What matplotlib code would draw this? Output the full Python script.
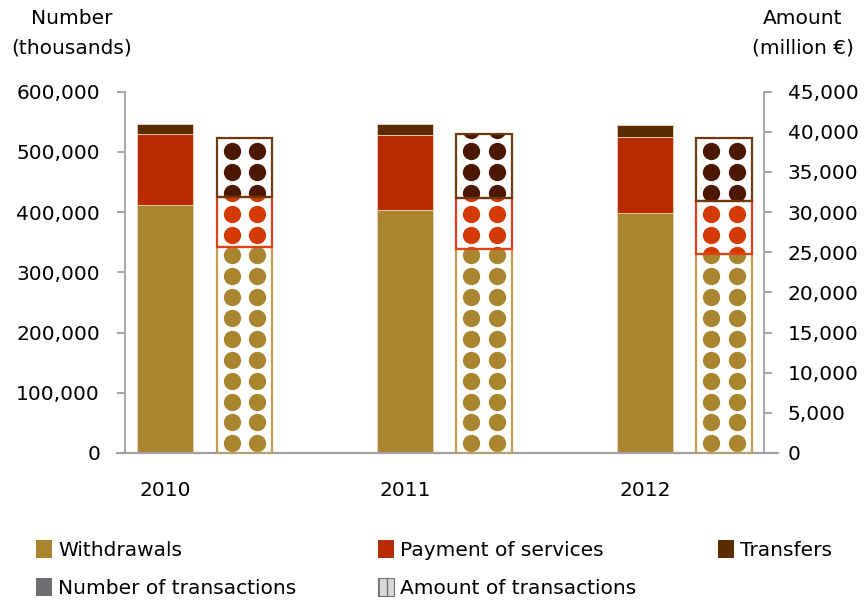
import numpy as np
import matplotlib
matplotlib.use("Agg")
from matplotlib import pyplot as plt
from matplotlib.patches import Rectangle
from matplotlib.ticker import FuncFormatter

years = ['2010', '2011', '2012']

# number of transactions (thousands)
num_withdrawals = [412000, 404000, 399000]
num_payments = [117000, 124000, 125000]
num_transfers = [17000, 19000, 21000]

# amount of transactions (million EUR)
amt_withdrawals = [25700, 25350, 24730]
amt_payments = [6200, 6450, 6650]
amt_transfers = [7300, 7950, 7900]

gold = '#aa852f'
red = '#b92b02'
brown = '#5a2c00'
dot_cols = ['#aa852f', '#d43a04', '#4b1700']
box_cols = ['#c39d4c', '#e0401a', '#6b3a10']
grey = '#a0a0a0'

plt.rcParams['font.family'] = 'DejaVu Sans'
fs = 14.5

fig = plt.figure(figsize=(8.65, 6.04), dpi=100)
ax = fig.add_axes([125/865, (604-453)/604, (764-125)/865, (453-91.7)/604])
ax2 = ax.twinx()

x = np.arange(len(years))
w = 0.233
off = 0.331

# number bars (left axis)
bot = np.zeros(3)
for vals, col in [(num_withdrawals, gold), (num_payments, red), (num_transfers, brown)]:
    ax.bar(x, vals, w, bottom=bot, color=col, edgecolor='#e6d6bc', linewidth=0.6, zorder=2)
    bot = bot + np.array(vals)

# amount bars (right axis) with dotted fill
bot = np.zeros(3)
for seg, vals in enumerate([amt_withdrawals, amt_payments, amt_transfers]):
    bars = ax2.bar(x + off, vals, w, bottom=bot, facecolor='white', edgecolor='none', zorder=2)
    for i, b in enumerate(bars):
        rows = np.arange(1200, 45000, 2600)
        xs = np.concatenate([np.full(len(rows), x[i] + off - 0.054), np.full(len(rows), x[i] + off + 0.054)])
        ys = np.concatenate([rows, rows])
        sc = ax2.scatter(xs, ys, s=155, color=dot_cols[seg], linewidths=0, zorder=3)
        sc.set_clip_path(b)
    ax2.bar(x + off, vals, w, bottom=bot, fill=False, edgecolor=box_cols[seg], linewidth=1.6, zorder=4)
    bot = bot + np.array(vals)

ax.set_xlim(-0.167, 2.496)
ax.set_ylim(0, 600000)
ax2.set_ylim(0, 45000)
ax.set_yticks(np.arange(0, 600001, 100000))
ax2.set_yticks(np.arange(0, 45001, 5000))
fmt = FuncFormatter(lambda v, p: '{:,.0f}'.format(v))
ax.yaxis.set_major_formatter(fmt)
ax2.yaxis.set_major_formatter(fmt)
ax.set_xticks(x)
ax.set_xticklabels(years)

for a in (ax, ax2):
    for s in a.spines.values():
        s.set_visible(False)
ax.spines['left'].set_visible(True)
ax.spines['left'].set_color(grey)
ax.spines['bottom'].set_visible(True)
ax.spines['bottom'].set_color(grey)
ax.spines['bottom'].set_linewidth(1.5)
ax2.spines['right'].set_visible(True)
ax2.spines['right'].set_color(grey)
for s in (ax.spines['left'], ax2.spines['right']):
    s.set_linewidth(1.3)

ax.tick_params(axis='y', length=6, width=1.3, color=grey, pad=12, labelsize=fs)
ax2.tick_params(axis='y', length=6, width=1.3, color=grey, pad=11, labelsize=fs)
ax.tick_params(axis='x', length=0, pad=20, labelsize=fs)

# extend the category axis line a bit past the value axes
ax.plot([-0.012, 1.022], [0, 0], transform=ax.transAxes, color=grey, lw=1.5, clip_on=False, zorder=1)

fig.text(72/865, 1 - 18/604, 'Number', ha='center', va='center', fontsize=fs)
fig.text(72/865, 1 - 48/604, '(thousands)', ha='center', va='center', fontsize=fs)
fig.text(803/865, 1 - 18/604, 'Amount', ha='center', va='center', fontsize=fs)
fig.text(803/865, 1 - 48/604, '(million €)', ha='center', va='center', fontsize=fs)

# legend: three columns placed by hand
h_w = Rectangle((0, 0), 1, 1, facecolor=gold)
h_n = Rectangle((0, 0), 1, 1, facecolor='#6d6d72')
h_p = Rectangle((0, 0), 1, 1, facecolor=red)
h_a = Rectangle((0, 0), 1, 1, facecolor='#d8d8d8', edgecolor='#707070', hatch='||', linewidth=0.8)
h_t = Rectangle((0, 0), 1, 1, facecolor=brown)
cols = [([h_w, h_n], ['Withdrawals', 'Number of transactions'], 36),
        ([h_p, h_a], ['Payment of services', 'Amount of transactions'], 378),
        ([h_t], ['Transfers'], 718)]
for hs, ls, xp in cols:
    fig.legend(hs, ls, loc='upper left', bbox_to_anchor=(xp/865, 1 - 540/604),
               frameon=False, fontsize=fs, handlelength=0.8, handleheight=1.0,
               handletextpad=0.3, labelspacing=0.9, borderpad=0, borderaxespad=0)

fig.savefig('out.png', dpi=100)
